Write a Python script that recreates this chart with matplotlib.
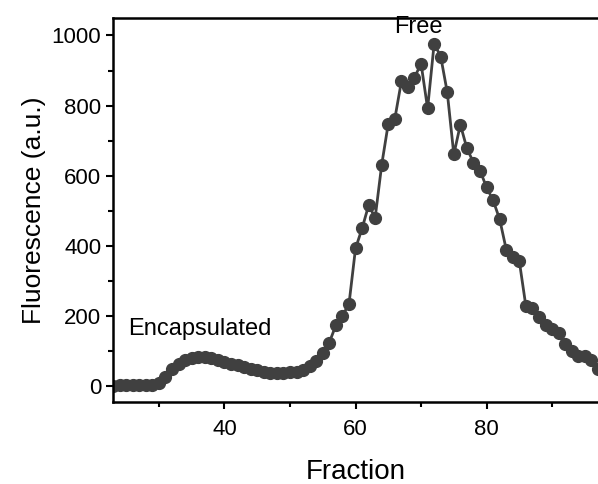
import numpy as np
import matplotlib.pyplot as plt

plt.rcParams['font.family'] = ['Liberation Sans', 'DejaVu Sans']

fraction = list(range(23, 98))
fluorescence = [2, 3, 3, 3, 3, 3, 5, 10, 26, 50,
                65, 74, 80, 84, 85, 80, 74, 70, 64, 60,
                54, 50, 46, 42, 39, 37, 38, 40, 42, 47,
                58, 72, 94, 125, 174, 202, 234, 393, 450, 516,
                481, 632, 749, 763, 869, 852, 880, 920, 792, 977,
                940, 838, 661, 746, 678, 638, 615, 567, 530, 476,
                390, 370, 356, 228, 222, 199, 174, 165, 151, 122,
                100, 88, 88, 74, 51]

col = '#404040'

fig = plt.figure(figsize=(5.98, 4.84), dpi=100)
ax = fig.add_axes([0.189, 0.169, 0.811, 0.794])

ax.plot(fraction, fluorescence, '-o', color=col, lw=2, ms=8.5, mfc=col, mec=col)

ax.set_xlim(23, 97)
ax.set_ylim(-45, 1050)
ax.set_xticks([40, 60, 80])
ax.set_xticks([30, 50, 70, 90], minor=True)
ax.set_yticks([0, 200, 400, 600, 800, 1000])
ax.set_yticks([100, 300, 500, 700, 900], minor=True)
ax.tick_params(which='both', direction='out', width=1.5, labelsize=16)
ax.tick_params(which='major', length=5)
ax.tick_params(which='minor', length=3.5)
ax.tick_params(axis='x', which='major', pad=7)
for s in ['left', 'bottom', 'top']:
    ax.spines[s].set_linewidth(1.8)
ax.spines['right'].set_visible(False)

ax.set_xlabel('Fraction', fontsize=20, labelpad=14)
ax.set_ylabel('Fluorescence (a.u.)', fontsize=19, labelpad=4)

ax.text(36.3, 165, 'Encapsulated', fontsize=17, ha='center', va='center')
ax.text(69.6, 1025, 'Free', fontsize=17, ha='center', va='center')

fig.savefig('out.png', dpi=100)
